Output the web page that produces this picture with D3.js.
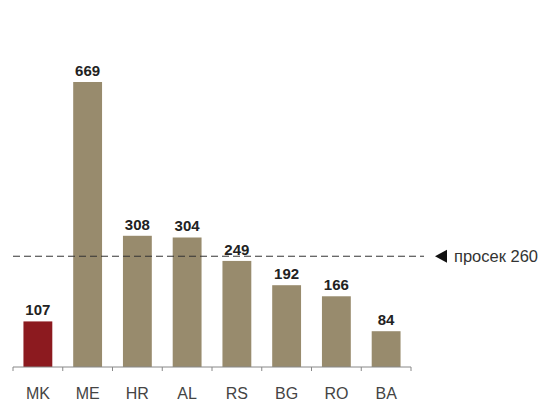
<!DOCTYPE html>
<html><head><meta charset="utf-8">
<script src="https://cdn.jsdelivr.net/npm/d3@7"></script>
<style>body{margin:0;background:#fff}svg{display:block}</style>
</head><body>
<script>
const categories = ["MK","ME","HR","AL","RS","BG","RO","BA"];
const values = [107,669,308,304,249,192,166,84];
const highlight = ["MK"];
const averageValue = 260;
const averageLabel = "просек 260";

const W = 545, H = 403;
const svg = d3.select("body").append("svg").attr("width", W).attr("height", H);
const x = d3.scaleBand().domain(categories).range([13, 411]).paddingInner(0.42).paddingOuter(0.21);
const y = d3.scaleLinear().domain([0, 669]).range([367, 82]);
const font = "Liberation Sans, Arial, sans-serif";

svg.selectAll("rect.bar").data(categories).join("rect")
  .attr("x", d => x(d)).attr("width", x.bandwidth())
  .attr("y", (d,i) => y(values[i])).attr("height", (d,i) => y(0) - y(values[i]))
  .attr("fill", d => highlight.includes(d) ? "#8c1a1f" : "#988b6d");

svg.selectAll("text.val").data(categories).join("text")
  .attr("x", d => x(d) + x.bandwidth()/2)
  .attr("y", (d,i) => y(values[i]) - 6)
  .attr("text-anchor", "middle")
  .attr("font-family", font)
  .attr("font-weight", "bold").attr("font-size", 15).attr("fill", "#222")
  .text((d,i) => values[i]);

// axis
const axisG = svg.append("g");
axisG.append("line").attr("x1", 13).attr("x2", 411).attr("y1", y(0)).attr("y2", y(0))
  .attr("stroke", "#888").attr("stroke-width", 1);
const tickXs = d3.range(categories.length + 1).map(i => 13 + i * (398 / categories.length));
axisG.selectAll("line.tick").data(tickXs).join("line")
  .attr("x1", d => d).attr("x2", d => d).attr("y1", y(0)).attr("y2", y(0) + 4)
  .attr("stroke", "#888");
svg.selectAll("text.cat").data(categories).join("text")
  .attr("x", d => x(d) + x.bandwidth()/2).attr("y", 399)
  .attr("text-anchor", "middle")
  .attr("font-family", font)
  .attr("font-size", 16).attr("fill", "#444")
  .text(d => d);

// average line
svg.append("line").attr("x1", 13).attr("x2", 424)
  .attr("y1", y(averageValue)).attr("y2", y(averageValue))
  .attr("stroke", "#333").attr("stroke-width", 1).attr("stroke-dasharray", "7,4");
const ay = y(averageValue);
svg.append("path").attr("d", `M435,${ay} L447,${ay-6.5} L447,${ay+6.5} Z`).attr("fill", "#111");
svg.append("text").attr("x", 454).attr("y", ay + 6)
  .attr("font-family", font)
  .attr("font-size", 16.5).attr("fill", "#333").text(averageLabel);
</script>
</body></html>
